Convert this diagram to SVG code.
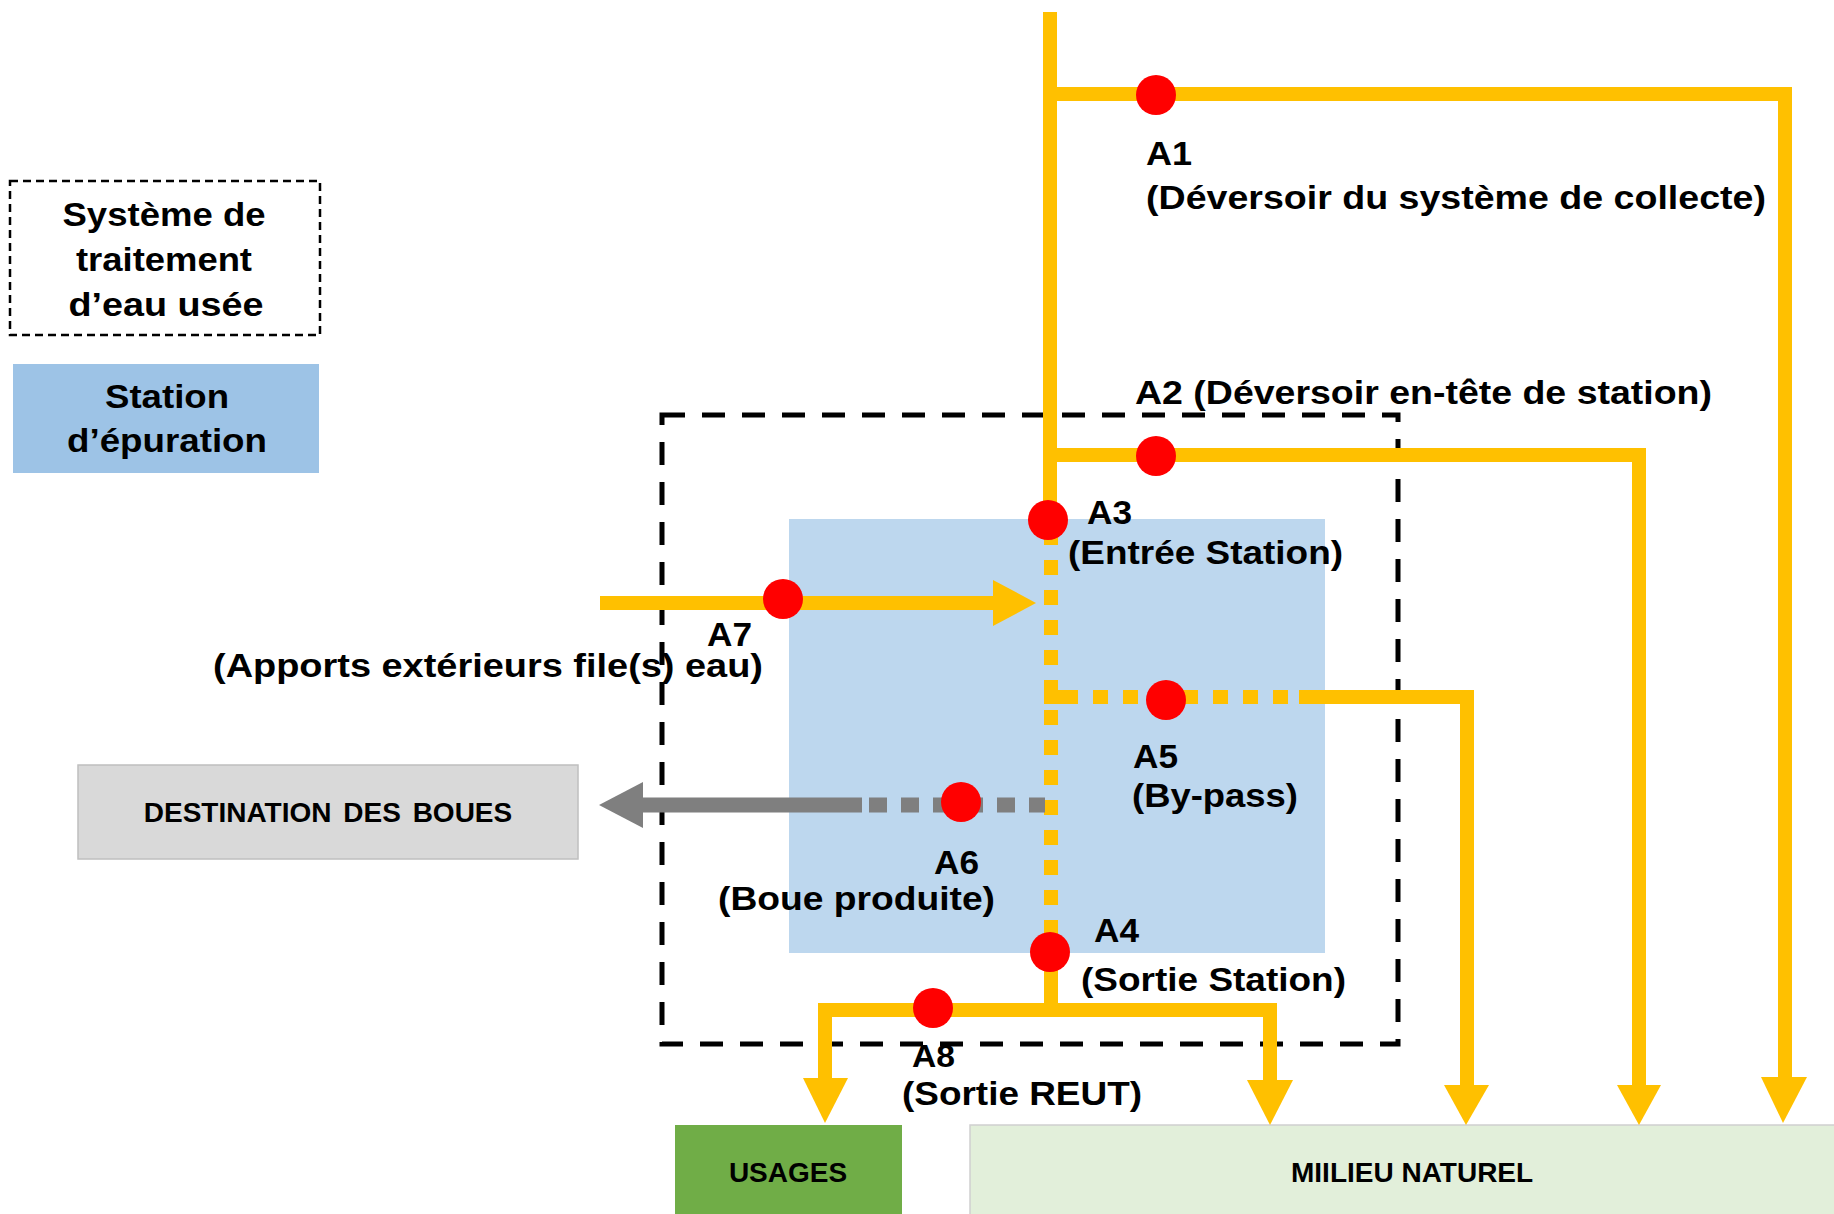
<svg xmlns="http://www.w3.org/2000/svg" width="1834" height="1214" viewBox="0 0 1834 1214">
  <style>
    .t { font-family: "Liberation Sans", Arial, sans-serif; font-weight: bold; fill: #000; }
    .lbl { font-size: 33px; }
    .leg { font-size: 33px; }
    .box { font-size: 28px; }
    .pipe { fill: none; stroke: #FFC000; stroke-width: 14; stroke-linejoin: miter; }
    .dot { fill: #FF0000; }
    .head { fill: #FFC000; }
  </style>
  <rect width="1834" height="1214" fill="#FFFFFF"/>

  <g id="legend-systeme">
    <rect x="10" y="181" width="310" height="154" fill="#FFFFFF" stroke="#000" stroke-width="2.5" stroke-dasharray="8 5"/>
    <text class="t leg" x="164" y="226" text-anchor="middle" textLength="203" lengthAdjust="spacingAndGlyphs">Système de</text>
    <text class="t leg" x="164" y="271" text-anchor="middle" textLength="176" lengthAdjust="spacingAndGlyphs">traitement</text>
    <text class="t leg" x="166" y="316" text-anchor="middle" textLength="195" lengthAdjust="spacingAndGlyphs">d’eau usée</text>
  </g>
  <g id="legend-station">
    <rect x="13" y="364" width="306" height="109" fill="#9DC3E6"/>
    <text class="t leg" x="167" y="408" text-anchor="middle" textLength="124" lengthAdjust="spacingAndGlyphs">Station</text>
    <text class="t leg" x="167" y="452" text-anchor="middle" textLength="200" lengthAdjust="spacingAndGlyphs">d’épuration</text>
  </g>

  <g id="systeme-traitement">
    <rect x="662" y="415" width="736" height="629" fill="none" stroke="#000" stroke-width="5" stroke-dasharray="23 17"/>
  </g>
  <g id="station-epuration">
    <rect x="789" y="519" width="536" height="434" fill="#BDD7EE"/>
  </g>

  <g id="destination-boues">
    <rect x="78" y="765" width="500" height="94" fill="#D9D9D9" stroke="#BFBFBF" stroke-width="1.5"/>
    <text class="t box" x="328" y="822" text-anchor="middle" word-spacing="4">DESTINATION DES BOUES</text>
  </g>
  <g id="usages">
    <rect x="675" y="1125" width="227" height="95" fill="#70AD47"/>
    <text class="t box" x="788" y="1182" text-anchor="middle">USAGES</text>
  </g>
  <g id="milieu-naturel">
    <rect x="970" y="1125" width="870" height="95" fill="#E2EFDA" stroke="#D0D0D0" stroke-width="1.5"/>
    <text class="t box" x="1291" y="1182">MIILIEU NATUREL</text>
  </g>

  <g id="connectors">
    <path class="pipe" d="M1050 12 V520"/>
    <path class="pipe" d="M1043 94 H1785 V1080"/>
    <polygon class="head" points="1761,1077 1807,1077 1783,1123"/>
    <path class="pipe" d="M1043 455 H1639 V1087"/>
    <polygon class="head" points="1617,1085 1661,1085 1639,1125"/>
    <path class="pipe" d="M1051 530 V940" stroke-dasharray="15 15"/>
    <path class="pipe" d="M1044 697 H1078"/>
    <path class="pipe" d="M1063 697 H1299" stroke-dasharray="15 15"/>
    <path class="pipe" d="M1299 697 H1467 V1087"/>
    <polygon class="head" points="1444,1085 1489,1085 1466,1125"/>
    <path class="pipe" d="M600 603 H995"/>
    <polygon class="head" points="993,580 993,626 1036,603"/>
    <path d="M641 805 H862" fill="none" stroke="#7F7F7F" stroke-width="15"/>
    <path d="M869 805 H1045" fill="none" stroke="#7F7F7F" stroke-width="15" stroke-dasharray="18 14"/>
    <polygon points="643,782 643,828 599,805" fill="#7F7F7F"/>
    <path class="pipe" d="M1051 945 V1010"/>
    <path class="pipe" d="M825 1080 V1010 H1270 V1080"/>
    <polygon class="head" points="803,1078 848,1078 825,1123"/>
    <polygon class="head" points="1247,1080 1293,1080 1270,1125"/>
  </g>

  <g id="points">
    <circle id="A1" class="dot" cx="1156" cy="95" r="20"/>
    <circle id="A2" class="dot" cx="1156" cy="456" r="20"/>
    <circle id="A3" class="dot" cx="1048" cy="520" r="20"/>
    <circle id="A7" class="dot" cx="783" cy="599" r="20"/>
    <circle id="A5" class="dot" cx="1166" cy="700" r="20"/>
    <circle id="A6" class="dot" cx="961" cy="802" r="20"/>
    <circle id="A4" class="dot" cx="1050" cy="952" r="20"/>
    <circle id="A8" class="dot" cx="933" cy="1008" r="20"/>
  </g>

  <g id="labels">
    <text class="t lbl" x="1146" y="165" textLength="46" lengthAdjust="spacingAndGlyphs">A1</text>
    <text class="t lbl" x="1146" y="209" textLength="620" lengthAdjust="spacingAndGlyphs">(Déversoir du système de collecte)</text>
    <text class="t lbl" x="1135" y="404" textLength="577" lengthAdjust="spacingAndGlyphs">A2 (Déversoir en-tête de station)</text>
    <text class="t lbl" x="1087" y="524" textLength="45" lengthAdjust="spacingAndGlyphs">A3</text>
    <text class="t lbl" x="1068" y="564" textLength="275" lengthAdjust="spacingAndGlyphs">(Entrée Station)</text>
    <text class="t lbl" x="707" y="646" textLength="45" lengthAdjust="spacingAndGlyphs">A7</text>
    <text class="t lbl" x="213" y="677" textLength="550" lengthAdjust="spacingAndGlyphs">(Apports extérieurs file(s) eau)</text>
    <text class="t lbl" x="1133" y="768" textLength="45" lengthAdjust="spacingAndGlyphs">A5</text>
    <text class="t lbl" x="1132" y="807" textLength="166" lengthAdjust="spacingAndGlyphs">(By-pass)</text>
    <text class="t lbl" x="934" y="874" textLength="45" lengthAdjust="spacingAndGlyphs">A6</text>
    <text class="t lbl" x="718" y="910" textLength="277" lengthAdjust="spacingAndGlyphs">(Boue produite)</text>
    <text class="t lbl" x="1094" y="942" textLength="45" lengthAdjust="spacingAndGlyphs">A4</text>
    <text class="t lbl" x="1081" y="991" textLength="265" lengthAdjust="spacingAndGlyphs">(Sortie Station)</text>
    <text class="t lbl" x="912" y="1067" textLength="43" lengthAdjust="spacingAndGlyphs" style="font-size:31px">A8</text>
    <text class="t lbl" x="902" y="1105" textLength="240" lengthAdjust="spacingAndGlyphs">(Sortie REUT)</text>
  </g>
</svg>
